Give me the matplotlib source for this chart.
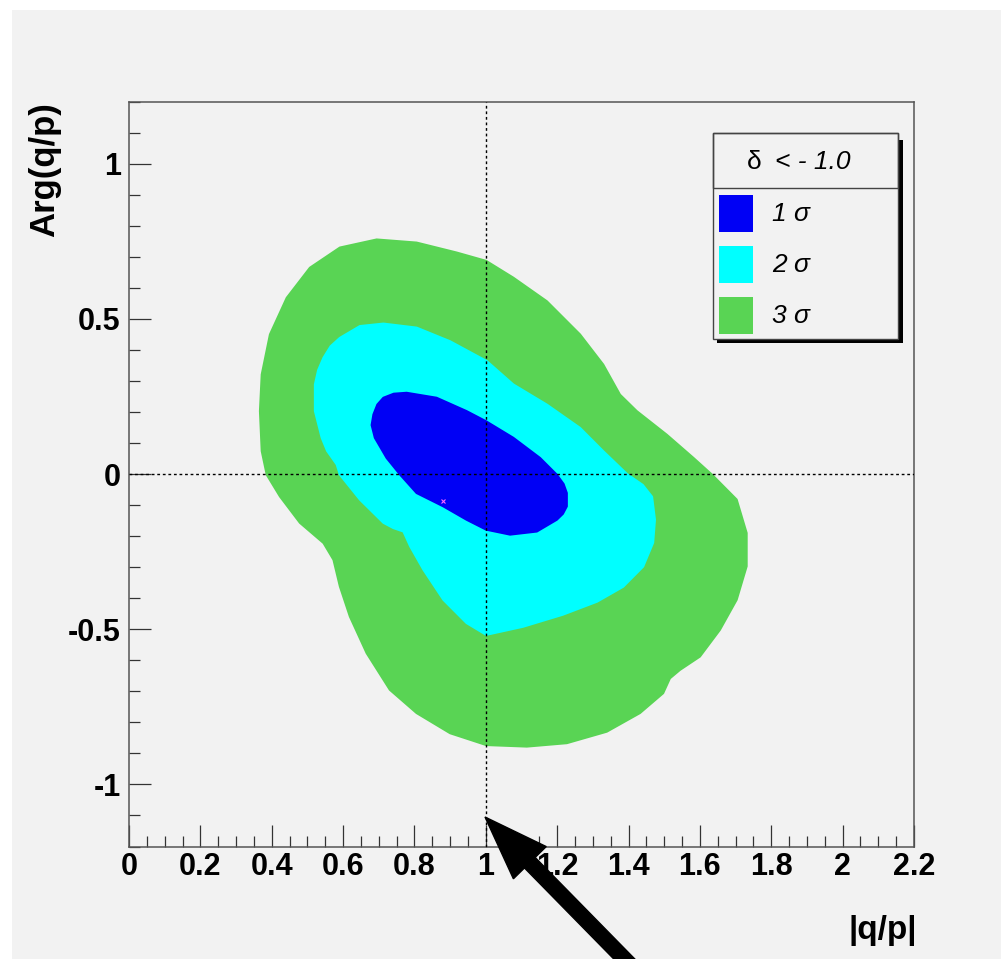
import numpy as np
import matplotlib
matplotlib.use("Agg")
import matplotlib.pyplot as plt
from matplotlib.patches import Rectangle, FancyArrow
from matplotlib.ticker import MultipleLocator, FuncFormatter
from matplotlib.transforms import Affine2D

plt.rcParams['font.family'] = ['Liberation Sans', 'DejaVu Sans']
plt.rcParams['axes.unicode_minus'] = False

# contour outlines (|q/p|, Arg(q/p)) for the three confidence levels
sig3_x = [0.591, 0.694, 0.806, 0.918, 1.001, 1.077, 1.171, 1.264, 1.329, 1.376,
          1.423, 1.507, 1.582, 1.634, 1.703, 1.731, 1.731, 1.703, 1.656, 1.600,
          1.544, 1.516, 1.497, 1.432, 1.339, 1.227, 1.115, 1.001, 0.900, 0.806,
          0.731, 0.666, 0.619, 0.591, 0.573, 0.545, 0.479, 0.423, 0.386, 0.372,
          0.367, 0.372, 0.395, 0.442, 0.507]
sig3_y = [0.730, 0.756, 0.746, 0.714, 0.687, 0.633, 0.557, 0.450, 0.353, 0.256,
          0.203, 0.127, 0.052, -0.002, -0.082, -0.190, -0.297, -0.405, -0.502, -0.588,
          -0.631, -0.658, -0.706, -0.770, -0.830, -0.867, -0.878, -0.873, -0.835, -0.770,
          -0.695, -0.577, -0.459, -0.362, -0.276, -0.222, -0.157, -0.072, -0.002, 0.074,
          0.203, 0.321, 0.450, 0.568, 0.665]

sig2_x = [0.713, 0.806, 0.900, 1.003, 1.077, 1.171, 1.264, 1.329, 1.396, 1.440,
          1.466, 1.474, 1.469, 1.441, 1.385, 1.312, 1.216, 1.104, 1.001, 0.946,
          0.881, 0.825, 0.788, 0.769, 0.741, 0.713, 0.647, 0.591, 0.582, 0.555,
          0.540, 0.521, 0.521, 0.530, 0.545, 0.565, 0.591, 0.647]
sig2_y = [0.485, 0.472, 0.428, 0.364, 0.289, 0.224, 0.149, 0.074, 0.000, -0.035,
          -0.073, -0.147, -0.221, -0.298, -0.363, -0.411, -0.453, -0.492, -0.518, -0.480,
          -0.405, -0.308, -0.233, -0.185, -0.174, -0.157, -0.082, -0.002, 0.031, 0.075,
          0.117, 0.203, 0.289, 0.335, 0.375, 0.412, 0.439, 0.477]

sig1_x = [0.778, 0.862, 0.946, 1.001, 1.077, 1.152, 1.199, 1.218, 1.227, 1.227,
          1.216, 1.199, 1.143, 1.068, 1.001, 0.946, 0.881, 0.806, 0.760, 0.722,
          0.689, 0.680, 0.685, 0.696, 0.713, 0.742]
sig1_y = [0.262, 0.246, 0.203, 0.170, 0.117, 0.052, -0.002, -0.032, -0.061, -0.104,
          -0.128, -0.147, -0.185, -0.195, -0.179, -0.147, -0.104, -0.061, -0.002, 0.052,
          0.117, 0.158, 0.192, 0.224, 0.246, 0.259]

best_x, best_y = 0.881, -0.088

levels = ['1 σ', '2 σ', '3 σ']
colors = ['#0000f5', '#00ffff', '#59d454']

W, H = 1001, 959
bg = '#f2f2f2'

fig = plt.figure(figsize=(W / 100, H / 100), dpi=100, facecolor='white')
# pixel coordinates (origin top-left) for the decorations
pix = Affine2D().scale(1 / W, -1 / H).translate(0, 1) + fig.transFigure

fig.add_artist(Rectangle((12, 10), W, H, transform=pix, facecolor=bg,
                         edgecolor='none', zorder=0))

ax = fig.add_axes([129 / W, 1 - 846.5 / H, 785 / W, 744.8 / H])
ax.set_facecolor(bg)

for xs, ys, c, z in [(sig3_x, sig3_y, colors[2], 1.0),
                     (sig2_x, sig2_y, colors[1], 1.1),
                     (sig1_x, sig1_y, colors[0], 1.2)]:
    ax.fill(xs, ys, facecolor=c, edgecolor=c, lw=1.5, joinstyle='round', zorder=z)
ax.plot([best_x], [best_y], marker='x', ms=3, mew=0.8, color='#ff66ff', zorder=1.3)

ax.axvline(1.0, color='k', lw=1.0, ls=(0, (2, 2)), zorder=3)
ax.axhline(0.0, color='k', lw=1.0, ls=(0, (2, 2)), zorder=3)

ax.set_xlim(0, 2.2)
ax.set_ylim(-1.2, 1.2)

ax.xaxis.set_major_locator(MultipleLocator(0.2))
ax.xaxis.set_minor_locator(MultipleLocator(0.05))
ax.yaxis.set_major_locator(MultipleLocator(0.5))
ax.yaxis.set_minor_locator(MultipleLocator(0.1))
fmt = FuncFormatter(lambda v, p: '%g' % round(v, 2))
ax.xaxis.set_major_formatter(fmt)
ax.yaxis.set_major_formatter(fmt)

ax.tick_params(which='both', direction='in', top=False, right=False,
               color='#333333', width=0.9)
ax.tick_params(which='major', length=15.8)
ax.tick_params(which='minor', length=7.9)
ax.tick_params(axis='x', which='major', pad=4)
ax.tick_params(axis='y', which='major', pad=6)
for lab in ax.get_xticklabels() + ax.get_yticklabels():
    lab.set_fontsize(22)
    lab.set_fontweight('bold')

for s in ax.spines.values():
    s.set_color('#555555')
    s.set_linewidth(1.1)

ax.text(-0.108, 1.0, 'Arg(q/p)', transform=ax.transAxes, rotation=90,
        ha='center', va='top', fontsize=25, fontweight='bold')
ax.text(1.004, -0.113, '|q/p|', transform=ax.transAxes,
        ha='right', va='center', fontsize=24, fontweight='bold')

# legend box with shadow and header
fig.add_artist(Rectangle((716.7, 140), 186.3, 203.3, transform=pix,
                         facecolor='black', edgecolor='none', zorder=5))
fig.add_artist(Rectangle((713.3, 133.3), 185, 206, transform=pix,
                         facecolor=bg, edgecolor='#444444', lw=1.0, zorder=6))
fig.add_artist(Rectangle((713.3, 133.3), 185, 55, transform=pix,
                         facecolor='none', edgecolor='#444444', lw=1.0, zorder=7))
fig.text(747, 162, 'δ', transform=pix, ha='left', va='center',
         fontsize=19, zorder=8)
fig.text(775, 162, '< - 1.0', transform=pix, ha='left', va='center',
         fontsize=19, fontstyle='italic', zorder=8)
row_y = [213, 264.5, 315]
for lv, c, yc in zip(levels, colors, row_y):
    fig.add_artist(Rectangle((719, yc - 18.5), 34, 37, transform=pix,
                             facecolor=c, edgecolor='none', zorder=7))
    fig.text(772, yc + 1, lv, transform=pix, ha='left', va='center',
             fontsize=19, fontstyle='italic', zorder=8)

# arrow pointing at |q/p| = 1
fig.add_artist(FancyArrow(640, 975, 485 - 640, 817 - 975, width=15,
                          head_width=46, head_length=64,
                          length_includes_head=True, color='black',
                          transform=pix, zorder=10))

fig.savefig('out.png', dpi=100, facecolor='white')
